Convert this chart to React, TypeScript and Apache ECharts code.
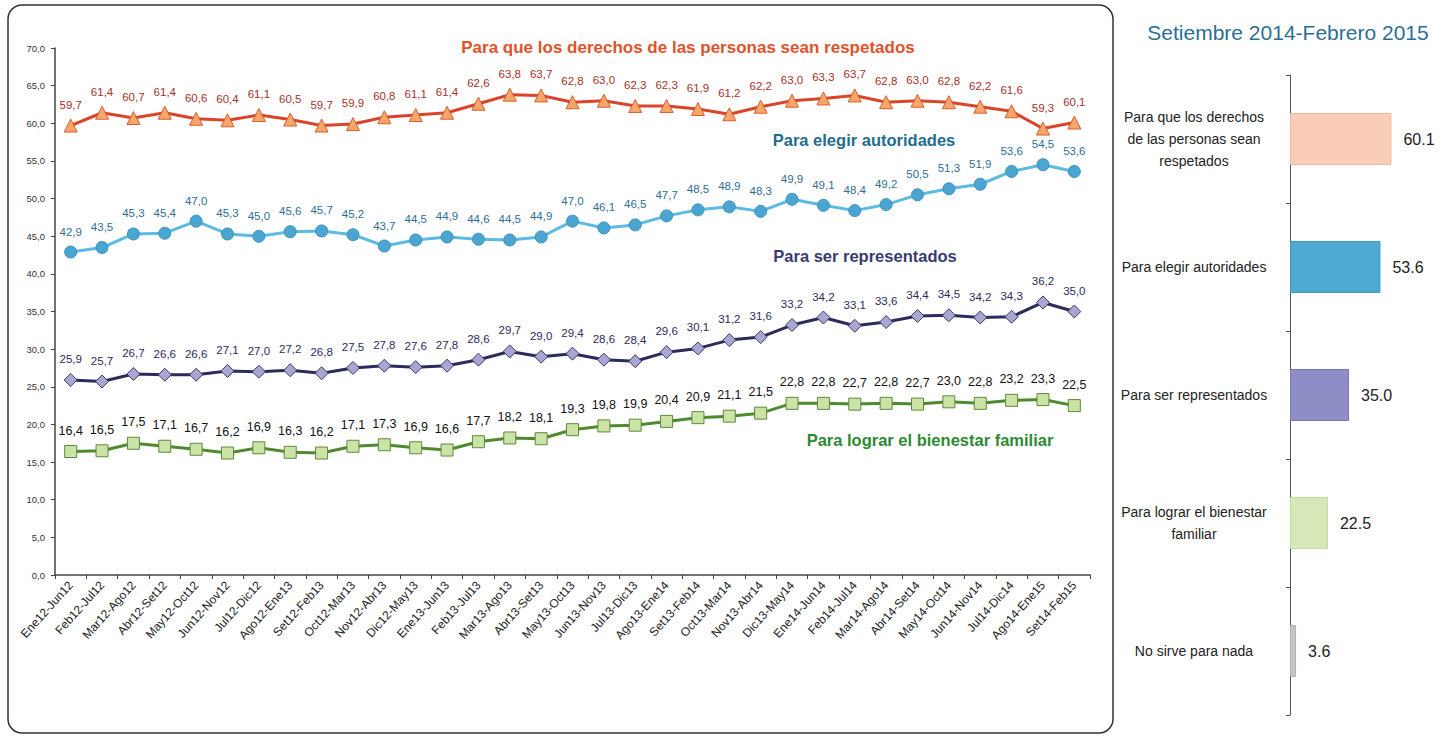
import React, { useEffect, useRef } from "react";
import * as echarts from "echarts";

const categories = [
  "Ene12-Jun12", "Feb12-Jul12", "Mar12-Ago12", "Abr12-Set12", "May12-Oct12", "Jun12-Nov12",
  "Jul12-Dic12", "Ago12-Ene13", "Set12-Feb13", "Oct12-Mar13", "Nov12-Abr13", "Dic12-May13",
  "Ene13-Jun13", "Feb13-Jul13", "Mar13-Ago13", "Abr13-Set13", "May13-Oct13", "Jun13-Nov13",
  "Jul13-Dic13", "Ago13-Ene14", "Set13-Feb14", "Oct13-Mar14", "Nov13-Abr14", "Dic13-May14",
  "Ene14-Jun14", "Feb14-Jul14", "Mar14-Ago14", "Abr14-Set14", "May14-Oct14", "Jun14-Nov14",
  "Jul14-Dic14", "Ago14-Ene15", "Set14-Feb15",
];

const derechos = [59.7, 61.4, 60.7, 61.4, 60.6, 60.4, 61.1, 60.5, 59.7, 59.9, 60.8, 61.1, 61.4, 62.6, 63.8, 63.7, 62.8, 63.0, 62.3, 62.3, 61.9, 61.2, 62.2, 63.0, 63.3, 63.7, 62.8, 63.0, 62.8, 62.2, 61.6, 59.3, 60.1];
const elegir = [42.9, 43.5, 45.3, 45.4, 47.0, 45.3, 45.0, 45.6, 45.7, 45.2, 43.7, 44.5, 44.9, 44.6, 44.5, 44.9, 47.0, 46.1, 46.5, 47.7, 48.5, 48.9, 48.3, 49.9, 49.1, 48.4, 49.2, 50.5, 51.3, 51.9, 53.6, 54.5, 53.6];
const representados = [25.9, 25.7, 26.7, 26.6, 26.6, 27.1, 27.0, 27.2, 26.8, 27.5, 27.8, 27.6, 27.8, 28.6, 29.7, 29.0, 29.4, 28.6, 28.4, 29.6, 30.1, 31.2, 31.6, 33.2, 34.2, 33.1, 33.6, 34.4, 34.5, 34.2, 34.3, 36.2, 35.0];
const bienestar = [16.4, 16.5, 17.5, 17.1, 16.7, 16.2, 16.9, 16.3, 16.2, 17.1, 17.3, 16.9, 16.6, 17.7, 18.2, 18.1, 19.3, 19.8, 19.9, 20.4, 20.9, 21.1, 21.5, 22.8, 22.8, 22.7, 22.8, 22.7, 23.0, 22.8, 23.2, 23.3, 22.5];

const seriesNames = [
  "Para que los derechos de las personas sean respetados",
  "Para elegir autoridades",
  "Para ser representados",
  "Para lograr el bienestar familiar",
];

const barTitle = "Setiembre 2014-Febrero 2015";
const barCategories = [
  "Para que los derechos\nde las personas sean\nrespetados",
  "Para elegir autoridades",
  "Para ser representados",
  "Para lograr el bienestar\nfamiliar",
  "No sirve para nada",
];
const barValues = [60.1, 53.6, 35.0, 22.5, 3.6];
const barColors = ["#f9cdb8", "#4eaad2", "#8f8dc6", "#d6e8b8", "#c4c4c4"];
const barBorders = ["#f0b89c", "#3e97bf", "#7a78b4", "#c4dba0", "#b0b0b0"];

const FONT = "Liberation Sans";
const comma = (v: number) => v.toFixed(1).replace(".", ",");

export default function App() {
  const ref = useRef<HTMLDivElement>(null);
  useEffect(() => {
    if (!ref.current) return;
    const chart = echarts.init(ref.current, null, { renderer: "svg" });
    const lineLabel = (color: string, fontSize = 11.5) => ({
      show: true,
      position: "top" as const,
      distance: 8,
      color,
      fontSize,
      fontFamily: FONT,
      formatter: (p: any) => comma(p.value),
    });
    const ann = (text: string, x: number, y: number, fill: string, size: number) => ({
      type: "text",
      x, y,
      style: {
        text, fill,
        font: `bold ${size}px ${FONT}`,
        textAlign: "center",
        textVerticalAlign: "middle",
      },
    });
    chart.setOption({
      animation: false,
      textStyle: { fontFamily: FONT },
      title: {
        text: barTitle,
        left: 1283,
        top: 17,
        textAlign: "center",
        textStyle: { fontSize: 21, fontWeight: "normal", color: "#2a6f96", fontFamily: FONT },
      },
      graphic: [
        {
          type: "rect",
          shape: { x: 8, y: 5, width: 1105, height: 728, r: 14 },
          style: { fill: "none", stroke: "#333", lineWidth: 1.5 },
          z: -1,
        },
        ann(seriesNames[0], 688, 47, "#e2522b", 17),
        ann(seriesNames[1], 864, 140, "#1f6e8c", 16.5),
        ann(seriesNames[2], 865, 256, "#3a3a72", 16.5),
        ann(seriesNames[3], 930, 440, "#2e8b34", 16.5),
      ],
      grid: [
        { left: 55, top: 48, width: 1035, height: 527 },
        { left: 1290, top: 75, width: 135, height: 640 },
      ],
      xAxis: [
        {
          type: "category",
          gridIndex: 0,
          data: categories,
          boundaryGap: true,
          axisLine: { lineStyle: { color: "#444", width: 1.5 } },
          axisTick: { show: true, length: 4, lineStyle: { color: "#444" } },
          axisLabel: { rotate: 48, fontSize: 12, color: "#222", interval: 0, fontFamily: FONT, margin: 8 },
        },
        {
          type: "value",
          gridIndex: 1,
          min: 0,
          max: 80,
          show: false,
          splitLine: { show: false },
        },
      ],
      yAxis: [
        {
          type: "value",
          gridIndex: 0,
          min: 0,
          max: 70,
          interval: 5,
          splitLine: { show: false },
          axisLine: { show: true, lineStyle: { color: "#444", width: 1.5 } },
          axisTick: { show: true, length: 4, lineStyle: { color: "#444" } },
          axisLabel: { fontSize: 9.5, color: "#333", formatter: (v: number) => comma(v), fontFamily: FONT, margin: 10 },
        },
        {
          type: "category",
          gridIndex: 1,
          data: barCategories,
          inverse: true,
          axisLine: { show: true, lineStyle: { color: "#555", width: 1 } },
          axisTick: { show: true, length: 4, lineStyle: { color: "#555" } },
          axisLabel: { fontSize: 14, color: "#222", align: "center", margin: 96, lineHeight: 22, fontFamily: FONT },
        },
      ],
      series: [
        {
          type: "line",
          name: seriesNames[0],
          data: derechos,
          xAxisIndex: 0, yAxisIndex: 0,
          symbol: "triangle",
          symbolSize: 13,
          lineStyle: { color: "#d9452a", width: 3 },
          itemStyle: { color: "#f6a66a", borderColor: "#d9602f", borderWidth: 1 },
          label: lineLabel("#a8302a"),
        },
        {
          type: "line",
          name: seriesNames[1],
          data: elegir,
          xAxisIndex: 0, yAxisIndex: 0,
          symbol: "circle",
          symbolSize: 12,
          lineStyle: { color: "#5cbbe3", width: 3 },
          itemStyle: { color: "#4aa6d0", borderColor: "#3a93bf", borderWidth: 1 },
          label: lineLabel("#2e6e96"),
        },
        {
          type: "line",
          name: seriesNames[2],
          data: representados,
          xAxisIndex: 0, yAxisIndex: 0,
          symbol: "diamond",
          symbolSize: 13,
          lineStyle: { color: "#2d2a5c", width: 3 },
          itemStyle: { color: "#a9a6d2", borderColor: "#3c3870", borderWidth: 1 },
          label: lineLabel("#2d2a5c"),
        },
        {
          type: "line",
          name: seriesNames[3],
          data: bienestar,
          xAxisIndex: 0, yAxisIndex: 0,
          symbol: "rect",
          symbolSize: 12,
          lineStyle: { color: "#4f8a2e", width: 3 },
          itemStyle: { color: "#cbe3a6", borderColor: "#5c8a3a", borderWidth: 1 },
          label: lineLabel("#111", 12.5),
        },
        {
          type: "bar",
          data: barValues.map((v, i) => ({
            value: v,
            itemStyle: { color: barColors[i], borderColor: barBorders[i], borderWidth: 1 },
          })),
          xAxisIndex: 1, yAxisIndex: 1,
          barWidth: 52,
          label: {
            show: true,
            position: "right",
            distance: 12,
            fontSize: 16,
            color: "#222",
            fontFamily: FONT,
            formatter: (p: any) => p.value.toFixed(1),
          },
        },
      ],
    });
    return () => chart.dispose();
  }, []);
  return (
    <div
      ref={ref}
      style={{ position: "fixed", left: 0, top: 0, width: 1453, height: 739, background: "#fff" }}
    />
  );
}
